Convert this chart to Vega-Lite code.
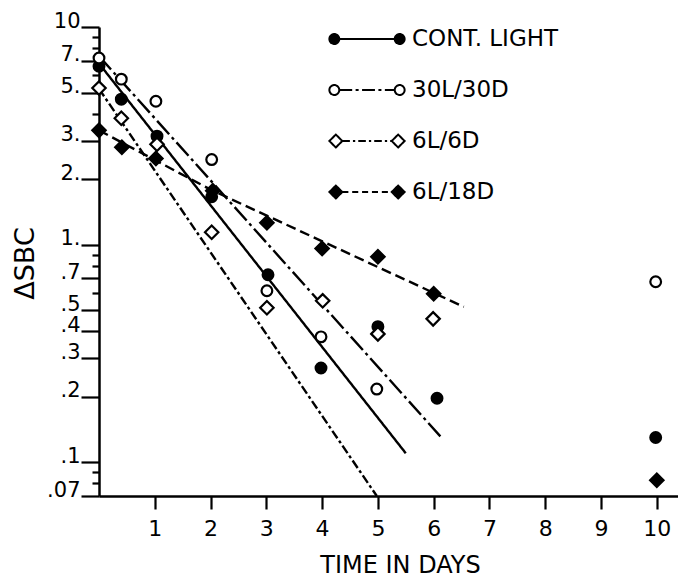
{
  "$schema": "https://vega.github.io/schema/vega-lite/v6.json",
  "width": 579,
  "height": 469,
  "autosize": "none",
  "padding": {"left": 99, "top": 27, "right": 0, "bottom": 82},
  "background": "white",
  "config": {"view": {"stroke": null}, "font": "DejaVu Sans"},
  "datasets": {
    "points": [
      {"series": "CONT. LIGHT", "day": 0, "sbc": 6.6},
      {"series": "CONT. LIGHT", "day": 0.4, "sbc": 4.66},
      {"series": "CONT. LIGHT", "day": 1.04, "sbc": 3.15},
      {"series": "CONT. LIGHT", "day": 2.02, "sbc": 1.66},
      {"series": "CONT. LIGHT", "day": 3.03, "sbc": 0.727},
      {"series": "CONT. LIGHT", "day": 3.98, "sbc": 0.271},
      {"series": "CONT. LIGHT", "day": 5.0, "sbc": 0.42},
      {"series": "CONT. LIGHT", "day": 6.06, "sbc": 0.197},
      {"series": "CONT. LIGHT", "day": 9.98, "sbc": 0.13},
      {"series": "30L/30D", "day": 0, "sbc": 7.2},
      {"series": "30L/30D", "day": 0.4, "sbc": 5.76},
      {"series": "30L/30D", "day": 1.02, "sbc": 4.56},
      {"series": "30L/30D", "day": 2.02, "sbc": 2.46},
      {"series": "30L/30D", "day": 3.01, "sbc": 0.614},
      {"series": "30L/30D", "day": 3.98, "sbc": 0.377},
      {"series": "30L/30D", "day": 4.98, "sbc": 0.217},
      {"series": "30L/30D", "day": 9.98, "sbc": 0.675},
      {"series": "6L/6D", "day": 0, "sbc": 5.24},
      {"series": "6L/6D", "day": 0.4, "sbc": 3.81},
      {"series": "6L/6D", "day": 1.04, "sbc": 2.89},
      {"series": "6L/6D", "day": 2.02, "sbc": 1.14},
      {"series": "6L/6D", "day": 3.01, "sbc": 0.513},
      {"series": "6L/6D", "day": 4.01, "sbc": 0.552},
      {"series": "6L/6D", "day": 5.0, "sbc": 0.389},
      {"series": "6L/6D", "day": 5.99, "sbc": 0.456},
      {"series": "6L/18D", "day": 0, "sbc": 3.35},
      {"series": "6L/18D", "day": 0.41, "sbc": 2.8},
      {"series": "6L/18D", "day": 1.02, "sbc": 2.49},
      {"series": "6L/18D", "day": 2.04, "sbc": 1.77},
      {"series": "6L/18D", "day": 3.01, "sbc": 1.26},
      {"series": "6L/18D", "day": 4.0, "sbc": 0.96},
      {"series": "6L/18D", "day": 5.0, "sbc": 0.88},
      {"series": "6L/18D", "day": 6.0, "sbc": 0.595},
      {"series": "6L/18D", "day": 10.0, "sbc": 0.0826}
    ],
    "fits": [
      {"series": "CONT. LIGHT", "day": 0, "sbc": 6.8},
      {"series": "CONT. LIGHT", "day": 5.5, "sbc": 0.11},
      {"series": "30L/30D", "day": 0, "sbc": 7.35},
      {"series": "30L/30D", "day": 6.15, "sbc": 0.129},
      {"series": "6L/6D", "day": 0, "sbc": 5.2},
      {"series": "6L/6D", "day": 4.98, "sbc": 0.07},
      {"series": "6L/18D", "day": 0, "sbc": 3.35},
      {"series": "6L/18D", "day": 2.0, "sbc": 1.79},
      {"series": "6L/18D", "day": 6.54, "sbc": 0.518}
    ]
  },
  "layer": [
    {
      "data": {"name": "fits"},
      "mark": {"type": "line", "color": "black", "strokeWidth": 2.4, "clip": true},
      "encoding": {
        "x": {
          "field": "day", "type": "quantitative",
          "scale": {"domain": [0, 10.38], "nice": false, "zero": false},
          "axis": {
            "values": [1, 2, 3, 4, 5, 6, 7, 8, 9, 10],
            "format": "d",
            "grid": false,
            "domainColor": "black", "domainWidth": 2.5,
            "tickColor": "black", "tickWidth": 2.2, "tickSize": 13,
            "labelFont": "DejaVu Sans", "labelFontSize": 22, "labelColor": "black",
            "labelPadding": 9, "labelFlush": false, "labelOverlap": false,
            "title": "TIME IN DAYS",
            "titleFont": "DejaVu Sans", "titleFontSize": 24, "titleFontWeight": "normal", "titleColor": "black",
            "titleX": 301, "titleY": 76, "titleAlign": "center", "titleBaseline": "alphabetic"
          }
        },
        "y": {
          "field": "sbc", "type": "quantitative",
          "scale": {"type": "log", "domain": [0.07, 10], "nice": false},
          "axis": {
            "values": [0.07, 0.08, 0.09, 0.1, 0.2, 0.3, 0.4, 0.5, 0.6, 0.7, 0.8, 0.9, 1, 2, 3, 4, 5, 6, 7, 8, 9, 10],
            "labelExpr": "indexof([0.07,0.1,0.2,0.3,0.4,0.5,0.7,1,2,3,5,7,10], datum.value) < 0 ? '' : datum.value == 10 ? '10' : datum.value >= 1 ? datum.value + '.' : replace(datum.value + '', '0.', '.')",
            "grid": false,
            "domainColor": "black", "domainWidth": 2.5,
            "tickColor": "black", "tickWidth": 2.2,
            "tickSize": {"condition": {"test": "indexof([0.07,0.1,0.2,0.3,0.4,0.5,0.7,1,2,3,5,7,10], datum.value) < 0", "value": 7}, "value": 18},
            "labelFont": "DejaVu Sans", "labelFontSize": 21, "labelColor": "black",
            "labelAlign": "right", "labelBaseline": "alphabetic",
            "labelPadding": 1, "labelOverlap": false, "labelFlush": false,
            "title": "ΔSBC",
            "titleFont": "DejaVu Sans", "titleFontSize": 27, "titleFontWeight": "normal", "titleColor": "black",
            "titleAngle": -90, "titleX": -66, "titleY": 236, "titleAlign": "center", "titleBaseline": "alphabetic"
          }
        },
        "strokeDash": {
          "field": "series", "type": "nominal",
          "scale": {"domain": ["30L/30D", "6L/6D", "6L/18D", "CONT. LIGHT"], "range": [[18, 4, 3, 4], [9, 3, 3, 3], [10, 5], [1, 0]]},
          "legend": null
        },
        "opacity": {
          "field": "series", "type": "nominal",
          "scale": {"type": "ordinal", "domain": ["CONT. LIGHT", "30L/30D", "6L/6D", "6L/18D"], "range": [1, 1, 1, 1]},
          "legend": {
            "title": null,
            "orient": "none", "legendX": 229, "legendY": -27,
            "direction": "vertical",
            "symbolSize": 5776, "rowPadding": -17.7, "padding": 0,
            "symbolOffset": 0, "labelOffset": 6,
            "labelFont": "DejaVu Sans", "labelFontSize": 23, "labelColor": "black", "labelLimit": 0,
            "symbolStrokeWidth": 2, "symbolStrokeColor": "black", "symbolOpacity": 1,
            "encode": {
              "symbols": {
                "update": {
                  "shape": {"signal": "datum.value === 'CONT. LIGHT' ? 'M -0.99,0 A 0.13,0.13 0 1,0 -0.73,0 A 0.13,0.13 0 1,0 -0.99,0 Z M 0.73,0 A 0.13,0.13 0 1,0 0.99,0 A 0.13,0.13 0 1,0 0.73,0 Z M -0.73,0 L 0.73,0' : datum.value === '30L/30D' ? 'M -0.99,0 A 0.13,0.13 0 1,0 -0.73,0 A 0.13,0.13 0 1,0 -0.99,0 Z M 0.73,0 A 0.13,0.13 0 1,0 0.99,0 A 0.13,0.13 0 1,0 0.73,0 Z M -0.73,0 L -0.39,0 M -0.3,0 L -0.22,0 M -0.13,0 L 0.21,0 M 0.3,0 L 0.38,0 M 0.47,0 L 0.73,0' : datum.value === '6L/6D' ? 'M -0.99,0 L -0.82,-0.17 L -0.65,0 L -0.82,0.17 Z M 0.65,0 L 0.82,-0.17 L 0.99,0 L 0.82,0.17 Z M -0.65,0 L -0.45,0 M -0.37,0 L -0.31,0 M -0.23,0 L -0.03,0 M 0.05,0 L 0.11,0 M 0.19,0 L 0.39,0 M 0.47,0 L 0.53,0 M 0.61,0 L 0.65,0' : 'M -0.99,0 L -0.82,-0.17 L -0.65,0 L -0.82,0.17 Z M 0.65,0 L 0.82,-0.17 L 0.99,0 L 0.82,0.17 Z M -0.65,0 L -0.49,0 M -0.39,0 L -0.23,0 M -0.13,0 L 0.03,0 M 0.13,0 L 0.29,0 M 0.39,0 L 0.55,0'"},
                  "fill": {"signal": "datum.value === '30L/30D' || datum.value === '6L/6D' ? 'white' : 'black'"},
                  "stroke": {"value": "black"},
                  "strokeWidth": {"value": 2},
                  "strokeDash": {"value": [1, 0]},
                  "size": {"value": 5776}
                }
              }
            }
          }
        }
      }
    },
    {
      "data": {"name": "points"},
      "transform": [{"filter": {"field": "series", "oneOf": ["CONT. LIGHT", "30L/30D"]}}],
      "mark": {"type": "point", "filled": true, "stroke": "black", "strokeWidth": 2.2, "opacity": 1, "size": 115},
      "encoding": {
        "x": {"field": "day", "type": "quantitative"},
        "y": {"field": "sbc", "type": "quantitative"},
        "fill": {
          "field": "series", "type": "nominal",
          "scale": {"domain": ["30L/30D", "6L/6D", "6L/18D", "CONT. LIGHT"], "range": ["white", "white", "black", "black"]},
          "legend": null
        },
        "shape": {
          "field": "series", "type": "nominal",
          "scale": {"domain": ["30L/30D", "6L/6D", "6L/18D", "CONT. LIGHT"], "range": ["circle", "diamond", "diamond", "circle"]},
          "legend": null
        }
      }
    },
    {
      "data": {"name": "points"},
      "transform": [{"filter": {"field": "series", "oneOf": ["6L/6D", "6L/18D"]}}],
      "mark": {"type": "point", "filled": true, "stroke": "black", "strokeWidth": 2.2, "opacity": 1, "size": 180},
      "encoding": {
        "x": {"field": "day", "type": "quantitative"},
        "y": {"field": "sbc", "type": "quantitative"},
        "fill": {"field": "series", "type": "nominal", "legend": null},
        "shape": {"field": "series", "type": "nominal", "legend": null}
      }
    }
  ]
}
